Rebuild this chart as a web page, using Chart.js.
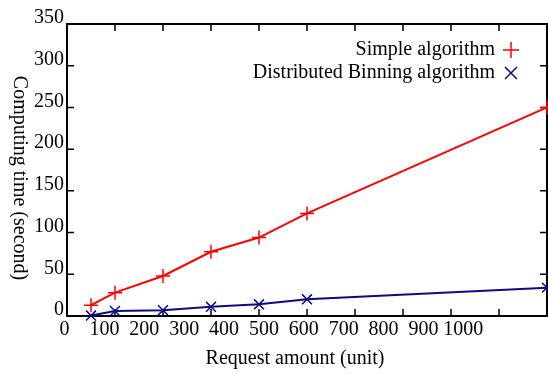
<!DOCTYPE html>
<html lang="en">
<head>
    <meta charset="utf-8">
    <title>Computing time vs request amount</title>
    <script src="https://cdn.jsdelivr.net/npm/chart.js"></script>
    <style>
        body {
            margin: 0;
            padding: 0;
            background-color: #ffffff;
        }
        .wrap {
            width: 548px;
            height: 374px;
        }
    </style>
</head>
<body>
    <div class="wrap">
        <canvas id="timeChart" width="548" height="374"></canvas>
    </div>

    <script>
        // Data
        const requestAmounts = [50, 100, 200, 300, 400, 500, 1000];
        const simpleTimes = [13, 28, 48, 77, 94, 123, 250];
        const binningTimes = [0.5, 6, 7, 11, 14, 20, 34];
        const xTickValues = [0, 100, 200, 300, 400, 500, 600, 700, 800, 900, 1000];
        const yTickValues = [0, 50, 100, 150, 200, 250, 300, 350];

        const serif = 'Liberation Serif, Times New Roman, serif';
        const fontSize = 20;

        // frame and inward tick marks on all four sides, gnuplot style
        const framePlugin = {
            id: 'frame',
            beforeDatasetsDraw(chart) {
                const { ctx, chartArea: a, scales } = chart;
                const len = 7;
                ctx.save();
                ctx.strokeStyle = '#000';
                ctx.lineWidth = 1.5;
                xTickValues.forEach(v => {
                    const px = scales.x.getPixelForValue(v);
                    ctx.beginPath();
                    ctx.moveTo(px, a.bottom);
                    ctx.lineTo(px, a.bottom - len);
                    ctx.moveTo(px, a.top);
                    ctx.lineTo(px, a.top + len);
                    ctx.stroke();
                });
                yTickValues.forEach(v => {
                    const py = scales.y.getPixelForValue(v);
                    ctx.beginPath();
                    ctx.moveTo(a.left, py);
                    ctx.lineTo(a.left + len, py);
                    ctx.moveTo(a.right, py);
                    ctx.lineTo(a.right - len, py);
                    ctx.stroke();
                });
                ctx.lineWidth = 2;
                ctx.strokeRect(a.left, a.top, a.right - a.left, a.bottom - a.top);
                ctx.restore();
            }
        };

        // axis titles (y one reads top to bottom) and the legend in the top right corner
        const textPlugin = {
            id: 'texts',
            afterDraw(chart) {
                const { ctx, chartArea: a } = chart;
                ctx.save();
                ctx.fillStyle = '#000';
                ctx.font = fontSize + 'px ' + serif;
                ctx.textAlign = 'center';
                ctx.textBaseline = 'middle';
                ctx.fillText('Request amount (unit)', 295, 359);
                ctx.translate(19, (a.top + a.bottom) / 2 + 8);
                ctx.rotate(Math.PI / 2);
                ctx.fillText('Computing time (second)', 0, 0);
                ctx.restore();

                ctx.save();
                ctx.font = fontSize + 'px ' + serif;
                ctx.textAlign = 'right';
                ctx.textBaseline = 'middle';
                chart.data.datasets.forEach((ds, i) => {
                    const y = 50 + i * 23;
                    ctx.fillStyle = '#000';
                    ctx.fillText(ds.label, a.right - 52, y);
                    const cx = a.right - 36;
                    const r = 8;
                    ctx.strokeStyle = ds.borderColor;
                    ctx.lineWidth = 1.5;
                    ctx.beginPath();
                    if (ds.pointStyle === 'cross') {
                        ctx.moveTo(cx - r, y);
                        ctx.lineTo(cx + r, y);
                        ctx.moveTo(cx, y - r);
                        ctx.lineTo(cx, y + r);
                    } else {
                        const d = r * 0.75;
                        ctx.moveTo(cx - d, y - d);
                        ctx.lineTo(cx + d, y + d);
                        ctx.moveTo(cx + d, y - d);
                        ctx.lineTo(cx - d, y + d);
                    }
                    ctx.stroke();
                });
                ctx.restore();
            }
        };

        const ctx = document.getElementById('timeChart').getContext('2d');
        new Chart(ctx, {
            type: 'line',
            data: {
                datasets: [{
                    label: 'Simple algorithm',
                    data: requestAmounts.map((x, i) => ({ x: x, y: simpleTimes[i] })),
                    borderColor: '#ff0000',
                    backgroundColor: '#ff0000',
                    borderWidth: 2,
                    pointStyle: 'cross',
                    pointRadius: 7,
                    pointBorderWidth: 1.5,
                    tension: 0,
                    clip: false
                }, {
                    label: 'Distributed Binning algorithm',
                    data: requestAmounts.map((x, i) => ({ x: x, y: binningTimes[i] })),
                    borderColor: '#0a0a8a',
                    backgroundColor: '#0a0a8a',
                    borderWidth: 2,
                    pointStyle: 'crossRot',
                    pointRadius: 7,
                    pointBorderWidth: 1.5,
                    tension: 0,
                    clip: false
                }]
            },
            options: {
                responsive: false,
                animation: false,
                layout: {
                    autoPadding: false,
                    padding: { left: 0, right: 1, top: 24, bottom: 0 }
                },
                plugins: {
                    legend: { display: false },
                    tooltip: { enabled: false }
                },
                scales: {
                    x: {
                        type: 'linear',
                        position: 'bottom',
                        min: 0,
                        max: 1000,
                        display: false
                    },
                    // label axis: the reference prints its x labels squeezed to the left
                    x2: {
                        type: 'linear',
                        position: 'bottom',
                        min: 6,
                        max: 1210,
                        grid: { display: false, drawTicks: false },
                        border: { display: false },
                        afterBuildTicks: s => { s.ticks = xTickValues.map(v => ({ value: v })); },
                        afterFit: s => {
                            s.height = 58;
                            s.paddingLeft = 0;
                            s.paddingRight = 0;
                        },
                        ticks: {
                            autoSkip: false,
                            maxRotation: 0,
                            padding: 2,
                            color: '#000',
                            font: { family: serif, size: fontSize },
                            callback: v => String(v)
                        }
                    },
                    y: {
                        min: 0,
                        max: 350,
                        grid: { display: false, drawTicks: false },
                        border: { display: false },
                        afterBuildTicks: s => { s.ticks = yTickValues.map(v => ({ value: v })); },
                        afterFit: s => { s.width = 67; },
                        ticks: {
                            padding: 3,
                            labelOffset: -6,
                            color: '#000',
                            font: { family: serif, size: fontSize },
                            callback: v => String(v)
                        }
                    }
                }
            },
            plugins: [framePlugin, textPlugin]
        });
    </script>
</body>
</html>
